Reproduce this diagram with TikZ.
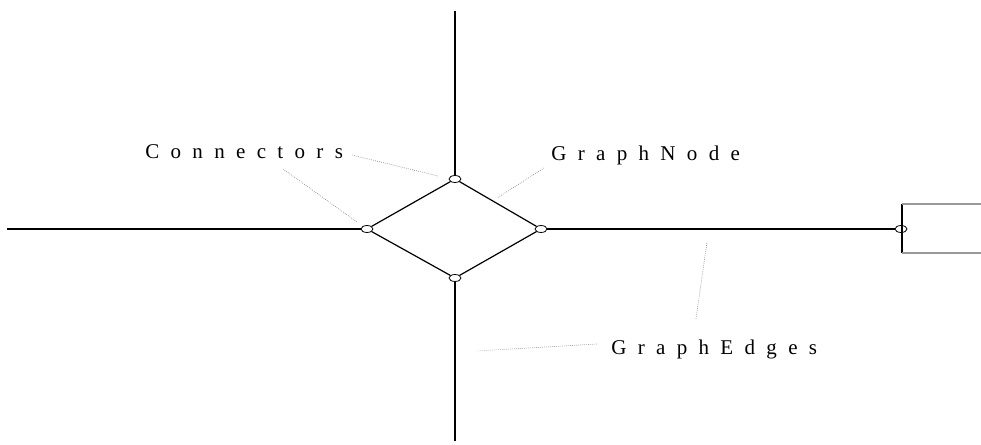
\documentclass[tikz,border=0pt]{standalone}
\usepackage{amsmath}
\usepackage{amssymb}
\usepackage{fontspec}
\setmainfont{Liberation Serif}
\usepackage{tikz}
\usetikzlibrary{shapes.geometric}

\newfontfamily\spacedfont[LetterSpace=54]{Liberation Serif}

\tikzset{
  conn/.style={ellipse,draw,fill=white,line width=0.6pt,inner sep=0pt,minimum width=9pt,minimum height=5.2pt},
  edgeline/.style={line width=0.9pt},
  leader/.style={densely dotted,gray,line width=0.5pt},
  lbl/.style={anchor=base west,inner sep=0pt,font=\spacedfont\fontsize{15.75}{18}\selectfont}
}

\begin{document}
\begin{tikzpicture}[x=0.75pt,y=0.75pt,yscale=-1,xscale=1]
\useasboundingbox (0,0) rectangle (981,445);

%Shape: Connectors
\node [conn] (ctop) at (455,179) {};
\node [conn] (cleft) at (367,229) {};
\node [conn] (cright) at (541,229) {};
\node [conn] (cbot) at (455,278) {};
\node [conn] (cbox) at (901,229) {};

%Free ends
\coordinate (etop) at (455,11);
\coordinate (ebot) at (455,441);
\coordinate (eleft) at (7,229);
\coordinate (boxtl) at (902,204);
\coordinate (boxbl) at (902,253);
\coordinate (boxtr) at (981,204);
\coordinate (boxbr) at (981,253);

%Shape: Diamond
\draw [edgeline] (ctop) -- (cright) -- (cbot) -- (cleft) -- (ctop);

%Straight Lines
\draw [edgeline] (etop) -- (ctop);
\draw [edgeline] (cbot) -- (ebot);
\draw [edgeline] (eleft) -- (cleft);
\draw [edgeline] (cright) -- (cbox);

%Shape: Box
\draw [edgeline] (boxtl) -- (boxbl);
\draw [line width=0.9pt,gray!80] (boxtl) -- (boxtr);
\draw [line width=0.9pt,gray!80] (boxbl) -- (boxbr);

% Text Node
\node [lbl] (lconn) at (145,159) {Connectors};
% Text Node
\node [lbl] (lnode) at (551,161) {GraphNode};
% Text Node
\node [lbl] (ledges) at (611,354) {GraphEdges};

%Leader Lines
\coordinate (a1) at (352,155);
\coordinate (b1) at (438,176);
\coordinate (a2) at (283,169);
\coordinate (b2) at (357,222);
\coordinate (a3) at (544,168);
\coordinate (b3) at (497,198);
\coordinate (a4) at (597,344);
\coordinate (b4) at (477,351);
\coordinate (a5) at (696,319);
\coordinate (b5) at (707,242);
\draw [leader] (a1) -- (b1);
\draw [leader] (a2) -- (b2);
\draw [leader] (a3) -- (b3);
\draw [leader] (a4) -- (b4);
\draw [leader] (a5) -- (b5);

\end{tikzpicture}
\end{document}
